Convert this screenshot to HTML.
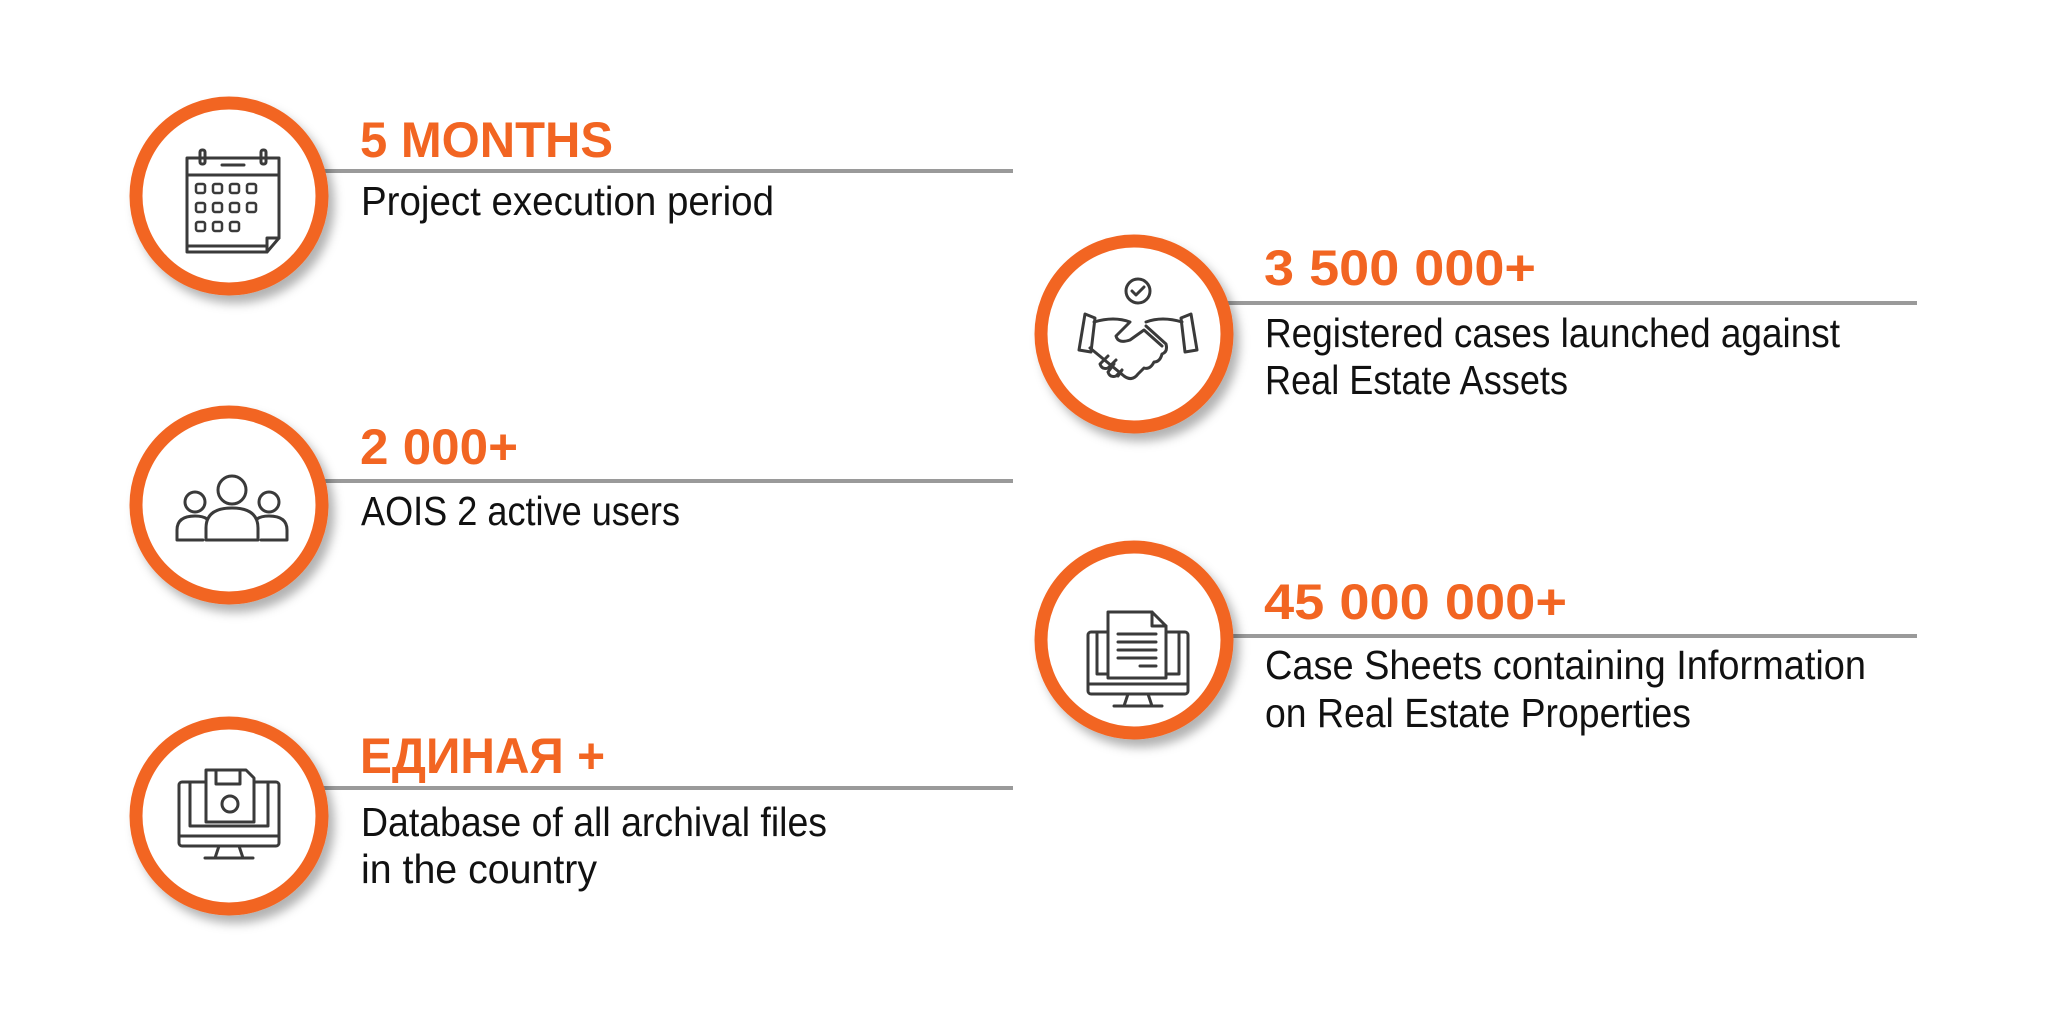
<!DOCTYPE html>
<html><head><meta charset="utf-8"><style>
html,body{margin:0;padding:0;background:#fff;}
svg{display:block}
.t{font-family:"Liberation Sans",sans-serif;font-weight:bold;font-size:50px;fill:#F26522}
.b{font-family:"Liberation Sans",sans-serif;font-size:41px;fill:#111}
.ic{fill:none;stroke:#3a3a3a;stroke-width:3;stroke-linejoin:round;stroke-linecap:round}
</style></head><body>
<svg width="2048" height="1016" viewBox="0 0 2048 1016">
<defs>
<filter id="sh" x="-30%" y="-30%" width="160%" height="160%"><feDropShadow dx="6" dy="8" stdDeviation="5" flood-color="#000" flood-opacity="0.3"/></filter>
</defs>
<g stroke="#9a9a9a" stroke-width="4">
<line x1="320" y1="171" x2="1013" y2="171"/>
<line x1="1225" y1="303" x2="1917" y2="303"/>
<line x1="320" y1="481" x2="1013" y2="481"/>
<line x1="1225" y1="636" x2="1917" y2="636"/>
<line x1="320" y1="788" x2="1013" y2="788"/>
</g>
<g fill="#fff" stroke="#F26522" stroke-width="13" filter="url(#sh)">
<circle cx="229" cy="196" r="93"/>
<circle cx="1134" cy="334" r="93"/>
<circle cx="229" cy="505" r="93"/>
<circle cx="1134" cy="640" r="93"/>
<circle cx="229" cy="816" r="93"/>
</g>
<g class="ic">
<path d="M187 158 h92 v80 l-12 14 h-80 z"/><line x1="187" y1="175" x2="279" y2="175"/>
<rect x="200" y="150" width="5" height="14" rx="2"/><rect x="261" y="150" width="5" height="14" rx="2"/>
<line x1="222" y1="165" x2="244" y2="165"/>
<path d="M267 252 l0-14 h12"/><line x1="187" y1="246" x2="267" y2="246"/>
</g>
<g fill="none" stroke="#3a3a3a" stroke-width="2.5">
<rect x="196" y="184" width="9" height="9" rx="2"/><rect x="213" y="184" width="9" height="9" rx="2"/><rect x="230" y="184" width="9" height="9" rx="2"/><rect x="247" y="184" width="9" height="9" rx="2"/>
<rect x="196" y="203" width="9" height="9" rx="2"/><rect x="213" y="203" width="9" height="9" rx="2"/><rect x="230" y="203" width="9" height="9" rx="2"/><rect x="247" y="203" width="9" height="9" rx="2"/>
<rect x="196" y="222" width="9" height="9" rx="2"/><rect x="213" y="222" width="9" height="9" rx="2"/><rect x="230" y="222" width="9" height="9" rx="2"/>
</g>
<g class="ic">
<circle cx="1138" cy="291" r="12"/><path d="M1132 291 l4 4 l8 -8"/>
<path d="M1085 314 l-6 36 l12 2 l4 -34 z"/><path d="M1191 314 l6 36 l-12 2 l-4 -34 z"/>
<path d="M1094 322 q20 -6 36 0 l-14 14 q2 8 14 4 l14 -10 l18 16"/>
<path d="M1182 322 q-20 -6 -36 0"/>
<path d="M1090 348 l34 28 q8 6 14 -2 l6 -6 q6 2 10 -6 q6 0 8 -8 q6 -2 4 -10 l-20 -18"/>
<path d="M1108 356 l-8 8 q2 6 8 4 l8 -8 M1114 364 l-6 8 q2 6 8 4 l6 -6 M1122 370 l-4 6"/>
</g>
<g class="ic">
<circle cx="232" cy="490" r="14"/><path d="M206 540 v-12 q0-20 26-20 q26 0 26 20 v12 z"/>
<circle cx="195" cy="502" r="10"/><path d="M203 540 h-26 v-10 q0-14 18-14 q8 0 12 3"/>
<circle cx="269" cy="502" r="10"/><path d="M261 540 h26 v-10 q0-14 -18-14 q-8 0 -12 3"/>
</g>
<g class="ic">
<rect x="1088" y="632" width="100" height="62" rx="3"/><line x1="1088" y1="684" x2="1188" y2="684"/>
<path d="M1128 694 l-4 12 h28 l-4 -12"/><line x1="1114" y1="706" x2="1162" y2="706"/>
<path d="M1097 632 v42 h82 v-42"/>
<path d="M1108 678 v-66 h44 l14 14 v52 z" fill="#fff"/><path d="M1152 612 v14 h14"/>
<line x1="1118" y1="634" x2="1156" y2="634"/><line x1="1118" y1="642" x2="1156" y2="642"/><line x1="1118" y1="650" x2="1156" y2="650"/><line x1="1118" y1="658" x2="1156" y2="658"/><line x1="1140" y1="666" x2="1156" y2="666"/>
</g>
<g class="ic">
<rect x="179" y="782" width="100" height="64" rx="3"/><line x1="179" y1="836" x2="279" y2="836"/>
<path d="M219 846 l-4 12 h28 l-4 -12"/><line x1="205" y1="858" x2="253" y2="858"/>
<path d="M190 782 v44 h78 v-44"/>
<path d="M206 770 h40 l8 8 v44 h-48 z" fill="#fff"/><rect x="216" y="770" width="24" height="14"/>
<circle cx="230" cy="804" r="8"/>
</g>
<text class="t" x="360" y="157" textLength="253" lengthAdjust="spacingAndGlyphs">5 MONTHS</text>
<text class="b" x="361" y="215" textLength="413" lengthAdjust="spacingAndGlyphs">Project execution period</text>
<text class="t" x="1264" y="285" textLength="272" lengthAdjust="spacingAndGlyphs">3 500 000+</text>
<text class="b" x="1265" y="347" textLength="575" lengthAdjust="spacingAndGlyphs">Registered cases launched against</text>
<text class="b" x="1265" y="394" textLength="303" lengthAdjust="spacingAndGlyphs">Real Estate Assets</text>
<text class="t" x="360" y="464" textLength="158" lengthAdjust="spacingAndGlyphs">2 000+</text>
<text class="b" x="361" y="525" textLength="319" lengthAdjust="spacingAndGlyphs">AOIS 2 active users</text>
<text class="t" x="1264" y="619" textLength="303" lengthAdjust="spacingAndGlyphs">45 000 000+</text>
<text class="b" x="1265" y="679" textLength="601" lengthAdjust="spacingAndGlyphs">Case Sheets containing Information</text>
<text class="b" x="1265" y="727" textLength="426" lengthAdjust="spacingAndGlyphs">on Real Estate Properties</text>
<text class="t" x="360" y="773" textLength="245" lengthAdjust="spacingAndGlyphs">ЕДИНАЯ +</text>
<text class="b" x="361" y="836" textLength="466" lengthAdjust="spacingAndGlyphs">Database of all archival files</text>
<text class="b" x="361" y="883" textLength="236" lengthAdjust="spacingAndGlyphs">in the country</text>
</svg>
</body></html>
